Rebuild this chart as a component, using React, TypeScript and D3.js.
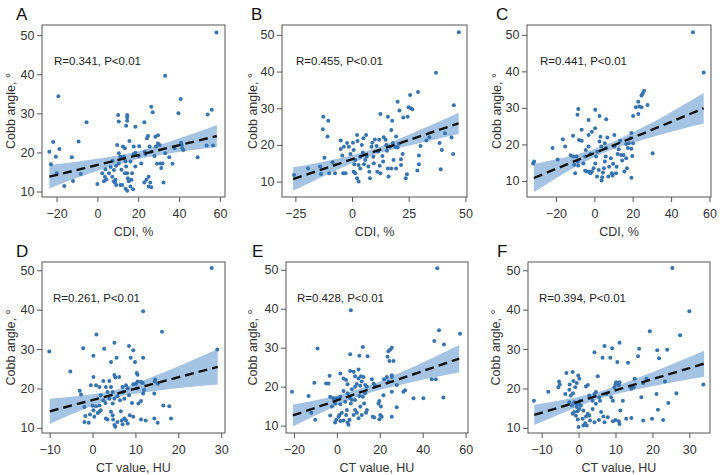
import React, { useRef, useEffect } from 'react';
import * as d3 from 'd3';

// Cobb angle (y) against CDI % (A-C) and CT value HU (D-F)
const pointsA: [number, number][] = [
  [58.3, 50.7], [33.2, 39.6], [-19.1, 34.4], [40.8, 33.7], [26.4, 31.7], [27.1, 30.3], [39.7, 30.0], [56, 30.9],
  [54, 29.7], [-5.3, 27.7], [10.2, 29.6], [14.6, 29.6], [14.6, 29.0], [14.6, 28.1], [14.1, 26.8], [18.6, 26.6],
  [10.5, 27.9], [23, 27.7], [-21.6, 22.7], [-23.5, 20.2], [-18.6, 20.9], [-20.3, 18.9], [-22.7, 17.0], [-19.9, 14.7],
  [-16.2, 11.4], [-12.5, 18.8], [-11.9, 12.7], [-9.2, 22.8], [-8.1, 14.5], [0, 11.9], [3.2, 12.6], [3.7, 13.8],
  [4, 15.7], [2.4, 14.7], [4.4, 13.1], [5.7, 14.7], [8.1, 15.5], [7.3, 13.8], [8.1, 12.6], [8.9, 13.0],
  [9.2, 11.7], [9.7, 21.9], [10.5, 19.8], [11.3, 18.9], [10.5, 17.2], [9.2, 16.6], [8.6, 12.3], [11.3, 11.7],
  [12.2, 11.7], [12.5, 21.5], [13.5, 21.1], [13.0, 18.9], [13.8, 17.7], [14.1, 16.4], [13.5, 14.7], [14.6, 14.7],
  [14.9, 13.4], [13.8, 10.7], [14.6, 10.2], [15.4, 12.6], [16.2, 11.3], [15.7, 22.9], [16.2, 17.7], [17, 14.7],
  [16.7, 13], [17.5, 10.6], [17.8, 21.5], [18.6, 19.9], [17.8, 19.6], [18.6, 16.4], [20.3, 19.1], [23.5, 19.6],
  [24, 13], [23, 12.3], [23.2, 20.2], [24.3, 23.6], [24.8, 24.2], [25.6, 21.5], [26.4, 20.2], [25.1, 13.8],
  [25.9, 12.3], [26.4, 11.1], [25.1, 11.3], [28, 19.1], [28.7, 21.5], [28.4, 24], [29.7, 24.4], [29.7, 22.3],
  [29.2, 17.1], [30.5, 21.9], [30.8, 17.2], [31.3, 16], [31.9, 17.2], [32.4, 12.3], [33.2, 19.8], [35.2, 18.8],
  [36.8, 17.1], [37.8, 21.1], [41, 22.5], [41.3, 21.9], [42.1, 20.6], [41.6, 21.1], [49.1, 18.8], [53.5, 21.8],
  [56.7, 21.8], [6.5, 16.3], [11.8, 15.6], [20.5, 21.6], [21.5, 17.2], [7.5, 17.8],
];
const pointsB: [number, number][] = [
  [47.1, 50.7], [37, 39.7], [29.1, 34.4], [25.6, 33.6], [20.1, 31.8], [20.9, 29.4], [24.9, 30.3], [25.9, 30],
  [26.6, 29.7], [24.5, 27.7], [22.6, 27.5], [44.9, 30.8], [12.5, 28.4], [15.8, 27.7], [17.7, 26.6], [-12.7, 27.7],
  [-10.5, 26.6], [-12.9, 24.3], [-10.8, 22.3], [17.3, 24.1], [30.2, 19.7], [32.8, 21.2], [34.1, 22.1], [38.6, 20.5],
  [39.6, 18.6], [39.1, 13.4], [41, 23.2], [43.9, 22], [44.6, 17.5], [29.5, 17.1], [29.5, 14.7], [28.8, 13],
  [24.2, 12], [23.7, 10.9], [22.3, 17.5], [21.6, 16.1], [21.6, 14.5], [19.4, 13.6], [-25.6, 11.8], [-19.4, 13.6],
  [-14.1, 14.1], [-12.2, 16.5], [-13.7, 12.1], [-10.1, 12.3], [-8.6, 15.3], [-7.5, 12.3], [-5, 21.2], [-5, 18.9],
  [-4.3, 17.1], [-3.6, 19.5], [-2.2, 20.5], [-3.9, 12.3], [-2.9, 12.3], [0.4, 20.6], [0.7, 18.6], [2.2, 22.7],
  [1.4, 15.9], [1, 14.7], [0.7, 12.7], [1.4, 12.3], [2.2, 10.9], [2.9, 10], [2.9, 14.5], [3.6, 16.8],
  [3.6, 13.6], [4.3, 20], [4.7, 17.9], [5, 21.8], [6.2, 22.7], [5.8, 15.9], [5.3, 14.7], [6.5, 16.8],
  [7.2, 14.1], [7.6, 12.7], [7.9, 10.9], [8.6, 19.5], [8.9, 20.6], [9.4, 16.8], [9.6, 15], [10.1, 21.5],
  [10.8, 19.7], [11.1, 12.7], [11.5, 18.2], [12, 21.4], [12.2, 14.3], [12.5, 12.3], [13.4, 17], [13.7, 15.5],
  [14, 22.1], [14.8, 21.4], [15.1, 20], [15.4, 18.4], [16.1, 11.4], [15.8, 13.6], [16.8, 19.5], [17.3, 13.6],
  [18, 20.5], [18.3, 15.9], [19.1, 19.4], [19.4, 22.3], [20.1, 19.3], [20.6, 20.3], [-0.7, 17.5], [-1.4, 19.5],
  [2.4, 21.1],
];
const pointsC: [number, number][] = [
  [51.4, 50.7], [57, 39.7], [25.9, 34.7], [25.2, 34], [24.6, 33.4], [22.9, 31.7], [27.7, 30.8], [21.6, 30.2],
  [23.4, 30.4], [24.6, 30.2], [22.9, 28.3], [20.2, 27.8], [30.4, 17.6], [-8.4, 29.7], [-8.8, 28.1], [0.5, 29.5],
  [2.7, 27.8], [6.2, 26.9], [-3, 26.7], [0.4, 24.4], [-1.3, 23.5], [-6.6, 24], [-3, 22.6], [-8, 21.2],
  [-6.6, 21], [-11.1, 22.4], [-16.4, 21.4], [-15.2, 19.4], [-21.8, 19], [-19.1, 15.9], [-31.4, 15.3], [-31.9, 14.8],
  [-12.3, 17], [-11, 16.7], [-9.3, 16.7], [-8.8, 15.3], [-10.5, 14.4], [-10, 12.1], [-8.4, 14.2], [-5.7, 14.8],
  [-4.8, 16.7], [-4.5, 18.5], [-3, 19.4], [-2.1, 17.4], [-4.8, 12.8], [-3.9, 12.6], [-3, 12.6], [-2.1, 12.1],
  [-1.3, 12.6], [-0.4, 13.5], [0.5, 14.8], [0.9, 16.7], [1.4, 18], [1.4, 11.2], [2.3, 13], [2.7, 20.8],
  [3.2, 22.1], [3.6, 19.4], [4.1, 11], [3.8, 10.1], [4.5, 12.3], [5, 13.5], [5.5, 15.3], [5.9, 16.7],
  [6.2, 19], [6.8, 21.9], [5.5, 20.3], [7.3, 11.2], [7.7, 13.9], [8.6, 16.2], [9.1, 12.1], [9.8, 14.7],
  [10.4, 19.4], [10.4, 22.6], [9.5, 11.5], [11.3, 12.1], [11.6, 13.9], [12.1, 17.4], [12.7, 18.7], [13.4, 21],
  [13.9, 17.1], [14.5, 15.6], [15.2, 17.1], [15.7, 12.6], [16.6, 20.1], [17, 13.5], [16.6, 16.2], [17.5, 19],
  [18, 20.3], [18.8, 21.7], [19.3, 23.1], [19.3, 18.8], [19.8, 16.8], [19.3, 10.9], [20.2, 20.3],
];
const pointsD: [number, number][] = [
  [27.8, 50.6], [11.8, 39.6], [16.2, 34.4], [0.9, 33.7], [5.1, 31.6], [-10.1, 29.4], [29.1, 29.9], [-2.2, 30.2],
  [2.7, 30.1], [8.5, 30.8], [9.5, 29.7], [0.2, 28.3], [5.6, 27.8], [8.9, 27.8], [11.8, 27.8], [9.9, 26.7],
  [4.3, 26.7], [-5.2, 24.3], [0.2, 22.9], [2.5, 21.9], [3.9, 21.9], [5.1, 23.4], [5.3, 22.8], [6.2, 22.9],
  [10.3, 23.9], [10.5, 23.5], [14.6, 22.3], [-3, 19.4], [-2.7, 18.5], [-0.4, 20.8], [0.8, 20.8], [1.6, 20.4],
  [1.9, 18.3], [3.1, 20.4], [3.5, 19.1], [4.3, 20.4], [4.7, 19.1], [2.5, 17], [3.9, 17.4], [3, 16.3],
  [4.7, 16.2], [5.1, 17.4], [5.8, 18], [6.4, 17], [7, 20.4], [7.1, 19.1], [7.4, 17.4], [7.8, 20.8],
  [8.2, 20], [8.5, 18.3], [9.2, 16.3], [9.5, 21.1], [10.1, 21.2], [10.3, 20], [10.5, 21.8], [11.3, 21.7],
  [11.7, 21.4], [11.3, 16.8], [11.8, 18.7], [12, 19.6], [14.5, 21.8], [15.2, 21.2], [14.4, 18.7], [16.5, 15.7],
  [17.9, 15.5], [-1.9, 15.3], [-1.7, 13], [-1.9, 11.5], [-0.9, 11.3], [-0.6, 13.4], [0.2, 14.5], [0.4, 12.8],
  [0, 15.6], [0.8, 15.5], [1.2, 13.8], [1.6, 14.1], [1.6, 15.7], [1.9, 14.5], [3.1, 12.4], [3.5, 12.1],
  [4.3, 14.1], [4.7, 13.2], [4.8, 12.1], [5.1, 10.7], [5.3, 10.3], [5.8, 11.5], [6.6, 14.2], [6.8, 11.9],
  [7, 10.9], [7.4, 12.4], [7.8, 11.9], [8.2, 11.1], [8.7, 13.2], [9.5, 12.8], [10.7, 16.2], [11.3, 12.1],
  [12.4, 11.9], [14.4, 12.4], [15.2, 11.3], [18.3, 12.4],
];
const pointsE: [number, number][] = [
  [46.8, 50.4], [6.5, 39.6], [47.6, 34.5], [57.4, 33.6], [45.4, 31.7], [49.9, 30.8], [-9, 29.8], [12.1, 30.2],
  [14.3, 27.8], [10.5, 27.9], [6.2, 28.3], [25.6, 30], [24.8, 29.5], [24, 29.1], [23.6, 27.7], [24.5, 26.6],
  [26.4, 26.6], [-20.9, 18.7], [-13.2, 17.6], [-10.5, 21], [-10.1, 11.5], [-11.9, 13.3], [-3.4, 22.8], [-3.9, 20.8],
  [-5, 20.8], [-3.1, 17.4], [-2.3, 14.9], [-3.1, 12.6], [1.6, 23.4], [3.1, 22.1], [4.3, 21.7], [5, 20.6],
  [6.2, 24], [7.8, 23.8], [8.5, 22.7], [9.3, 20.7], [10.1, 24.4], [10.1, 22.1], [11.2, 22.7], [12.4, 22.5],
  [11.6, 21.3], [10.9, 20.2], [13.2, 20.4], [14, 20], [8.5, 20], [7, 19.3], [5, 18.3], [3.1, 18.9],
  [1.6, 17.4], [0, 17], [-1.6, 17], [-0.8, 15.7], [1.6, 15.5], [3.9, 16.1], [6.2, 17], [7, 16.6],
  [8.5, 16.6], [10.5, 17.6], [12.1, 17.4], [13.2, 18.3], [12.7, 15.7], [14, 14], [13.6, 13.3], [10.9, 14.9],
  [8.5, 14], [6.5, 15.7], [4.7, 14], [4.3, 12.7], [2.3, 13.3], [1.2, 12.7], [-0.3, 11.5], [-0.8, 10.8],
  [0.8, 12.3], [1.6, 11.2], [3.1, 11.3], [5, 10.8], [5.4, 10.2], [5.9, 11.5], [7.8, 12.7], [9.3, 13.3],
  [10.1, 11.9], [11.6, 12.7], [16.3, 21.9], [17.1, 20.8], [17.8, 20.2], [16.7, 12.3], [17.4, 12.1], [19.4, 15.7],
  [19.8, 16.3], [20.2, 12.7], [20.9, 12.3], [20.5, 14.9], [19.8, 11.6], [21.7, 17.8], [22, 21.9], [23.3, 22.5],
  [24, 21.3], [25.6, 22.5], [25.6, 22.9], [25.6, 18.7], [25.6, 12.3], [27.9, 20.4], [27.9, 14.7], [31, 18.7],
  [31.8, 19.1], [35.7, 17], [40.3, 17], [49.6, 17.2], [44.2, 21.9], [46.1, 21.9],
];
const pointsF: [number, number][] = [
  [25.4, 50.6], [30, 39.6], [27.5, 33.5], [19.3, 34.5], [11.1, 31.6], [7, 30.8], [9.1, 30.2], [16.4, 30.1],
  [21.3, 29.7], [24, 29.8], [4.3, 29.2], [10.5, 26.7], [13.4, 26.5], [6.5, 27.8], [8.6, 27.8], [16.1, 28.2],
  [21.8, 27.7], [-12.1, 16.9], [-8.2, 19.2], [-5.3, 21.8], [-5.1, 21], [-5.5, 20.3], [-3.3, 23.9], [-1.6, 24.2],
  [-2.4, 21], [-2.5, 19.7], [-3.6, 18.6], [-1.4, 21.9], [-0.5, 21.4], [-0.1, 23.3], [0.2, 22.5], [-0.9, 20.3],
  [-1.5, 18.8], [-2.1, 18.2], [2, 20.5], [2.5, 20.9], [5.2, 23.1], [4.3, 18.6], [4.7, 19.1], [5.6, 17.8],
  [5.8, 16.9], [2.9, 18.2], [3.8, 16.9], [7.5, 18.6], [8.8, 17.8], [9.3, 16.9], [9.7, 20.3], [10, 21],
  [10.9, 20.8], [11.1, 21.6], [10.2, 21.6], [12, 16.9], [14.3, 19.9], [14.9, 20.3], [15.2, 22.5], [17.5, 21.4],
  [17, 17.8], [18.4, 22.5], [21.1, 18.6], [23.4, 21.8], [26.5, 18.8], [33.8, 21], [24.3, 16.3], [21.5, 14.6],
  [-2.5, 16.5], [-1.8, 15.7], [-1.2, 16.5], [-0.7, 16.1], [-0.5, 15.3], [0, 16.1], [0.4, 16.8], [0.6, 15.7],
  [-0.3, 14.2], [0.2, 14.8], [-1.2, 14], [-1.6, 13.6], [-0.7, 13.1], [-0.2, 12.1], [0, 10.2], [1.1, 12.3],
  [2, 12.9], [2.5, 13.6], [2.9, 13.1], [1.8, 11.2], [1.3, 10.6], [2.2, 10.6], [3.1, 11.9], [4.3, 11.4],
  [5.5, 12], [6.1, 14], [6.7, 12.9], [7, 11.4], [7.9, 12.7], [9.3, 11.7], [10, 12], [10.9, 11.7],
  [11.1, 11], [11.3, 14.4], [12.9, 12.3], [14.3, 12.5], [17.5, 11.9], [19.9, 12.3], [22.9, 12], [1.3, 14.4],
  [3.8, 14.8], [4.7, 16.1],
];

// fitted line and confidence band, read at a few x positions
const bandXA = [-23.5, -5, 15, 35, 58.5];
const fitA = [13.8, 16.15, 18.7, 21.2, 24.2];
const loA = [10.8, 14.4, 17.7, 19.7, 21.4];
const hiA = [16.8, 18.0, 19.7, 22.7, 27.0];

const bandXB = [-26, -9, 8, 25, 47];
const fitB = [10.7, 14.2, 17.8, 21.3, 25.9];
const loB = [7.5, 12.5, 17.0, 19.8, 23.0];
const hiB = [13.9, 15.9, 18.6, 22.8, 28.8];

const bandXC = [-31.5, -14, 5, 25, 57];
const fitC = [10.8, 14.6, 18.7, 22.9, 29.9];
const loC = [6.9, 12.6, 17.7, 21.2, 25.7];
const hiC = [14.7, 16.6, 19.7, 24.6, 34.1];

const bandXD = [-10, -2, 5, 15, 29.2];
const fitD = [14.2, 16.5, 18.5, 21.4, 25.5];
const loD = [11.0, 14.7, 17.5, 19.4, 21.0];
const hiD = [17.4, 18.3, 19.5, 23.4, 30.0];

const bandXE = [-20.5, -5, 10, 30, 57];
const fitE = [12.6, 15.5, 18.4, 22.1, 27.2];
const loE = [9.8, 13.9, 17.5, 20.5, 23.7];
const hiE = [15.4, 17.1, 19.3, 23.7, 30.7];

const bandXF = [-12, -3, 6, 18, 34];
const fitF = [13.3, 15.8, 18.4, 21.8, 26.3];
const loF = [10.7, 14.3, 17.5, 20.2, 23.0];
const hiF = [15.9, 17.3, 19.3, 23.4, 29.6];

const letters = ['A', 'B', 'C', 'D', 'E', 'F'];
const statLabels = ['R=0.341, P<0.01', 'R=0.455, P<0.01', 'R=0.441, P<0.01', 'R=0.261, P<0.01', 'R=0.428, P<0.01', 'R=0.394, P<0.01'];
const xTitles = ['CDI, %', 'CDI, %', 'CDI, %', 'CT value, HU', 'CT value, HU', 'CT value, HU'];
const xTickSets = [[-20, 0, 20, 40, 60], [-25, 0, 25, 50], [-20, 0, 20, 40, 60], [-10, 0, 10, 20, 30], [-20, 0, 20, 40, 60], [-10, 0, 10, 20, 30]];
const yTicks = [10, 20, 30, 40, 50];
const yTitle = 'Cobb angle, \u00b0';

const FONT = '"Liberation Sans", Arial, Helvetica, sans-serif';

const panels = [
  { pts: pointsA, bx: bandXA, fit: fitA, lo: loA, hi: hiA, xd: [-27.1, 62.5], yd: [8.6, 52.6], f: { l: 42, r: 225, t: 25, b: 197 }, letterX: 16, titleX: 14.5, statDx: 12 },
  { pts: pointsB, bx: bandXB, fit: fitB, lo: loB, hi: hiB, xd: [-30.9, 50.7], yd: [5.8, 52.7], f: { l: 282, r: 467, t: 25, b: 197 }, letterX: 251, titleX: 257, statDx: 14 },
  { pts: pointsC, bx: bandXC, fit: fitC, lo: loC, hi: hiC, xd: [-35.1, 60.8], yd: [5.6, 52.7], f: { l: 527, r: 711, t: 25, b: 197 }, letterX: 496, titleX: 500.5, statDx: 13 },
  { pts: pointsD, bx: bandXD, fit: fitD, lo: loD, hi: hiD, xd: [-11.8, 30.9], yd: [8.7, 52.1], f: { l: 42, r: 225, t: 262, b: 433 }, letterX: 16, titleX: 14.5, statDx: 11 },
  { pts: pointsE, bx: bandXE, fit: fitE, lo: loE, hi: hiE, xd: [-23.7, 61.1], yd: [8.1, 52.0], f: { l: 286, r: 468, t: 262, b: 433 }, letterX: 252, titleX: 256.5, statDx: 11 },
  { pts: pointsF, bx: bandXF, fit: fitF, lo: loF, hi: hiF, xd: [-13.7, 35.6], yd: [8.7, 52.1], f: { l: 528, r: 710, t: 262, b: 433 }, letterX: 497, titleX: 499.5, statDx: 11 },
];

const fmt = (v: number) => (v < 0 ? '\u2212' + Math.abs(v) : String(v));

const App = () => {
  const svgRef = useRef<SVGSVGElement>(null);

  useEffect(() => {
    if (!svgRef.current) return;
    document.body.style.margin = '0';
    const svg = d3.select(svgRef.current);
    svg.selectAll('*').remove();

    panels.forEach((p, i) => {
      const { f } = p;
      const x = d3.scaleLinear().domain(p.xd).range([f.l, f.r]);
      const y = d3.scaleLinear().domain(p.yd).range([f.b, f.t]);
      const g = svg.append('g');

      // confidence band
      const band = p.bx.map((v, k) => ({ x: v, lo: p.lo[k], hi: p.hi[k] }));
      const area = d3.area<{ x: number; lo: number; hi: number }>()
        .x(d => x(d.x))
        .y0(d => y(d.lo))
        .y1(d => y(d.hi))
        .curve(d3.curveMonotoneX);
      g.append('path')
        .datum(band)
        .attr('fill', '#a5c4e3')
        .attr('d', area);

      // points
      g.selectAll('circle')
        .data(p.pts)
        .enter()
        .append('circle')
        .attr('cx', d => x(d[0]))
        .attr('cy', d => y(d[1]))
        .attr('r', 2)
        .attr('fill', '#3673b1');

      // fitted line
      const line = d3.line<number>()
        .x((_, k) => x(p.bx[k]))
        .y(d => y(d));
      g.append('path')
        .datum(p.fit)
        .attr('fill', 'none')
        .attr('stroke', '#111')
        .attr('stroke-width', 2.4)
        .attr('stroke-dasharray', '9,5')
        .attr('d', line);

      // frame
      g.append('rect')
        .attr('x', f.l)
        .attr('y', f.t)
        .attr('width', f.r - f.l)
        .attr('height', f.b - f.t)
        .attr('fill', 'none')
        .attr('stroke', '#555')
        .attr('stroke-width', 1);

      // axes
      const xAxis = d3.axisBottom(x).tickValues(xTickSets[i]).tickSize(5).tickPadding(7).tickFormat(d => fmt(+d));
      const gx = g.append('g').attr('transform', `translate(0,${f.b})`).call(xAxis);
      const yAxis = d3.axisLeft(y).tickValues(yTicks).tickSize(5).tickPadding(2.5).tickFormat(d => String(d));
      const gy = g.append('g').attr('transform', `translate(${f.l},0)`).call(yAxis);
      [gx, gy].forEach(a => {
        a.select('.domain').remove();
        a.selectAll('line').attr('stroke', '#555');
        a.selectAll('text').attr('fill', '#333').style('font-family', FONT).style('font-size', '12.5px');
      });

      // x title
      g.append('text')
        .attr('x', (f.l + f.r) / 2)
        .attr('y', f.b + 38.5)
        .attr('text-anchor', 'middle')
        .attr('fill', '#333')
        .style('font-family', FONT)
        .style('font-size', '12.5px')
        .text(xTitles[i]);

      // y title
      g.append('text')
        .attr('transform', `translate(${p.titleX},${(f.t + f.b) / 2}) rotate(-90)`)
        .attr('text-anchor', 'middle')
        .attr('fill', '#333')
        .style('font-family', FONT)
        .style('font-size', '12.5px')
        .text(yTitle);

      // panel letter
      g.append('text')
        .attr('x', p.letterX)
        .attr('y', f.t - 5)
        .attr('fill', '#111')
        .style('font-family', FONT)
        .style('font-size', '17px')
        .text(letters[i]);

      // correlation text
      g.append('text')
        .attr('x', f.l + p.statDx)
        .attr('y', f.t + 40)
        .attr('fill', '#222')
        .style('font-family', FONT)
        .style('font-size', '11.5px')
        .text(statLabels[i]);
    });
  }, []);

  return (
    <div>
      <svg ref={svgRef} width={722} height={475} style={{ display: 'block', background: '#fff' }} />
    </div>
  );
};

export default App;
